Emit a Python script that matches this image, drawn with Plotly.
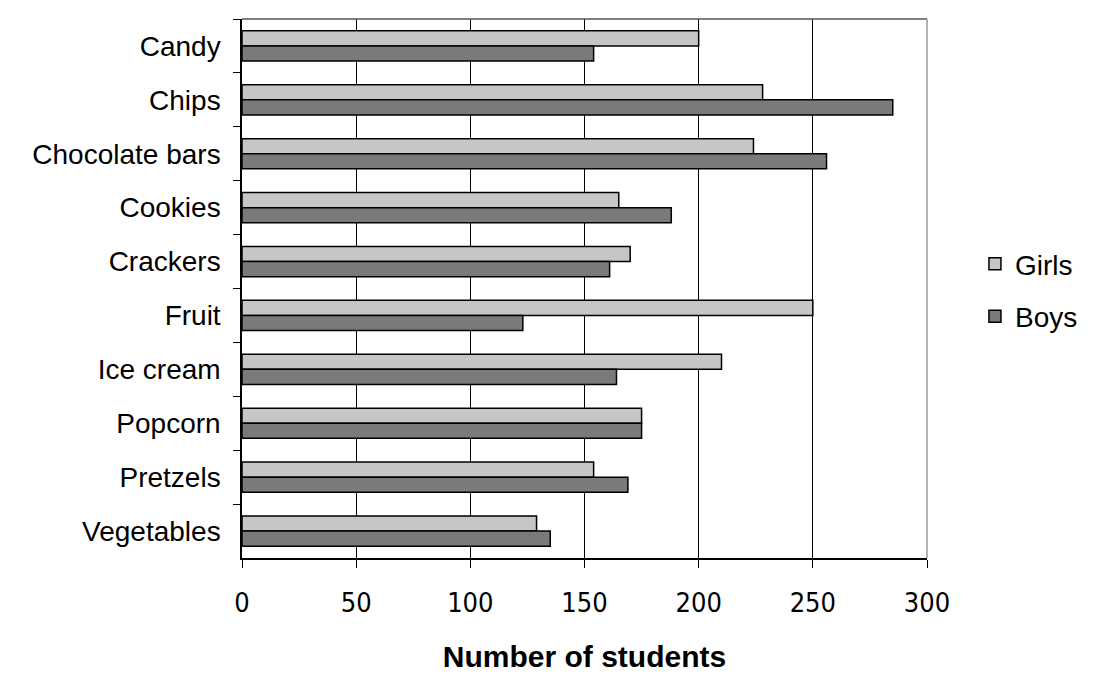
import plotly.graph_objects as go

snacks = ['Candy', 'Chips', 'Chocolate bars', 'Cookies', 'Crackers',
          'Fruit', 'Ice cream', 'Popcorn', 'Pretzels', 'Vegetables']
girls = [200, 228, 224, 165, 170, 250, 210, 175, 154, 129]
boys = [154, 285, 256, 188, 161, 123, 164, 175, 169, 135]
x_ticks = [0, 50, 100, 150, 200, 250, 300]

font_main = 'Liberation Sans, Arial, sans-serif'
font_narrow = 'Liberation Sans Narrow, DejaVu Sans Condensed, Liberation Sans, Arial, sans-serif'

fig = go.Figure()
fig.add_trace(go.Bar(
    y=snacks, x=girls, name='Girls', orientation='h', legendgroup='g',
    marker=dict(color='#c6c6c6', line=dict(color='#000000', width=1.5))))
fig.add_trace(go.Bar(
    y=snacks, x=boys, name='Boys', orientation='h', legendgroup='b',
    marker=dict(color='#7a7a7a', line=dict(color='#000000', width=1.5))))

# page puts the plot 8px in from the corner, so margins are shifted by 8
fig.update_layout(
    width=1100, height=682,
    margin=dict(l=234, r=181, t=11, b=132),
    paper_bgcolor='white', plot_bgcolor='white',
    barmode='group', bargap=0.44, bargroupgap=0,
    font=dict(family=font_main, size=28, color='#000000'),
    legend=dict(x=1.07, y=0.497, xanchor='left', yanchor='middle',
                font=dict(size=28), tracegroupgap=13,
                traceorder='grouped', itemwidth=30),
    showlegend=True,
)
fig.update_xaxes(
    range=[0, 300], tickvals=x_ticks, ticks='outside', ticklen=8,
    tickcolor='#000000', showline=True, linecolor='#000000', linewidth=1.5,
    showgrid=True, gridcolor='#000000', gridwidth=1.2, zeroline=False,
    tickfont=dict(family=font_narrow, size=27),
    ticklabelstandoff=12, automargin=False,
    title=dict(text='<b>Number of students</b>', standoff=29,
               font=dict(family=font_main, size=30)))
fig.update_yaxes(
    autorange='reversed', tickson='boundaries', ticks='outside', ticklen=7,
    tickcolor='#000000', showline=True, linecolor='#000000', linewidth=1.5,
    showgrid=False, ticklabelstandoff=14, automargin=False)

# plot area border on the top and right
fig.add_shape(type='line', xref='paper', yref='paper', x0=0, x1=1, y0=1, y1=1,
              line=dict(color='#555555', width=1.5))
fig.add_shape(type='line', xref='paper', yref='paper', x0=1, x1=1, y0=0, y1=1,
              line=dict(color='#999999', width=1.5))

fig.write_html("out.html")
